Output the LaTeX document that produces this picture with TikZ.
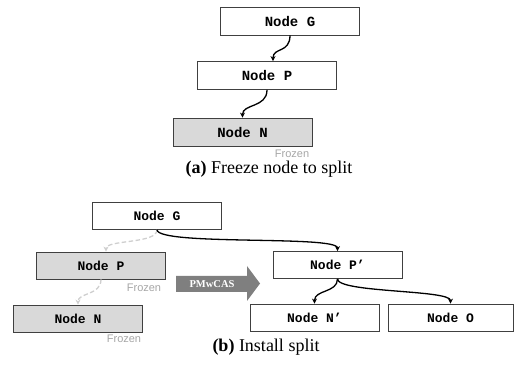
\documentclass[tikz,border=0pt]{standalone}
\usepackage{fontspec}
\setmainfont{Liberation Serif}
\newfontfamily\monof{Liberation Mono}
\newfontfamily\sansf{Liberation Sans}
\usetikzlibrary{arrows.meta}
\definecolor{frzfill}{HTML}{D9D9D9}
\definecolor{frztext}{HTML}{A6A6A6}
\definecolor{dashgray}{HTML}{CFCFCF}
\definecolor{casgray}{HTML}{7F7F7F}
\begin{document}
\begin{tikzpicture}[x=1pt,y=-1pt,
  boxa/.style={draw=black!75,line width=0.8pt,fill=white,minimum width=139pt,minimum height=28pt,inner sep=0pt,
    font=\monof\bfseries\fontsize{14}{16}\selectfont},
  boxb/.style={draw=black!75,line width=0.8pt,fill=white,minimum width=129pt,minimum height=27pt,inner sep=0pt,
    font=\monof\bfseries\fontsize{13}{15}\selectfont},
  frozen/.style={fill=frzfill},
  frz/.style={text=frztext,font=\sansf\fontsize{11}{13}\selectfont,inner sep=0pt},
  captext/.style={font=\fontsize{18}{20}\selectfont,inner sep=0pt},
  link/.style={line width=1.3pt,-{Stealth[length=5pt,width=5pt]}},
  oldlink/.style={line width=1.3pt,draw=dashgray,dash pattern=on 4.5pt off 2.5pt,-{Stealth[length=5pt,width=5pt]}}]
\useasboundingbox (0,0) rectangle (514,371);
% (a)
\node[boxa] (Ga) at (290,21) {Node G};
\node[boxa] (Pa) at (267,75.5) {Node P};
\node[boxa,frozen] (Na) at (242.5,132) {Node N};
\node[frz] (Fa) at (292,154) {Frozen};
\node[captext] (Ca) at (269,169.5) {\textbf{(a)} Freeze node to split};
\draw[link] (Ga.south) .. controls +(0,18) and +(0,-14) .. ([xshift=6pt]Pa.north);
\draw[link] (Pa.south) .. controls +(0,18) and +(0,-14) .. (Na.north);
% (b)
\node[boxb] (Gb) at (157,216) {Node G};
\node[boxb,frozen] (Pb) at (101,265.5) {Node P};
\node[frz] (Fpb) at (144,288) {Frozen};
\node[boxb,frozen] (Nb) at (78,318.5) {Node N};
\node[frz] (Fnb) at (124,339) {Frozen};
\node[boxb] (Pp) at (337.5,265) {Node P’};
\node[boxb] (Np) at (314.5,317.5) {Node N’};
\node[boxb,minimum width=125pt] (Ob) at (450.5,317.5) {Node O};
\node[captext] (Cb) at (266,347) {\textbf{(b)} Install split};
% PMwCAS arrow
\fill[casgray] (176,276) -- (247,276) -- (247,266) -- (260,283.5) -- (247,301) -- (247,292) -- (176,292) -- cycle;
\node[text=white,font=\bfseries\fontsize{10.5}{12}\selectfont,inner sep=0pt] (cas) at (212,284) {PMwCAS};
\draw[oldlink] (Gb.south) .. controls +(0,14) and +(0,-12) .. ([xshift=5pt]Pb.north);
\draw[oldlink] (Pb.south) .. controls +(0,16) and +(0,-12) .. (Nb.north);
\draw[link] (Gb.south) .. controls +(2,16) and +(0,-16) .. (Pp.north);
\draw[link] (Pp.south) .. controls +(0,14) and +(0,-14) .. (Np.north);
\draw[link] (Pp.south) .. controls +(0,14) and +(0,-14) .. (Ob.north);
\end{tikzpicture}
\end{document}
